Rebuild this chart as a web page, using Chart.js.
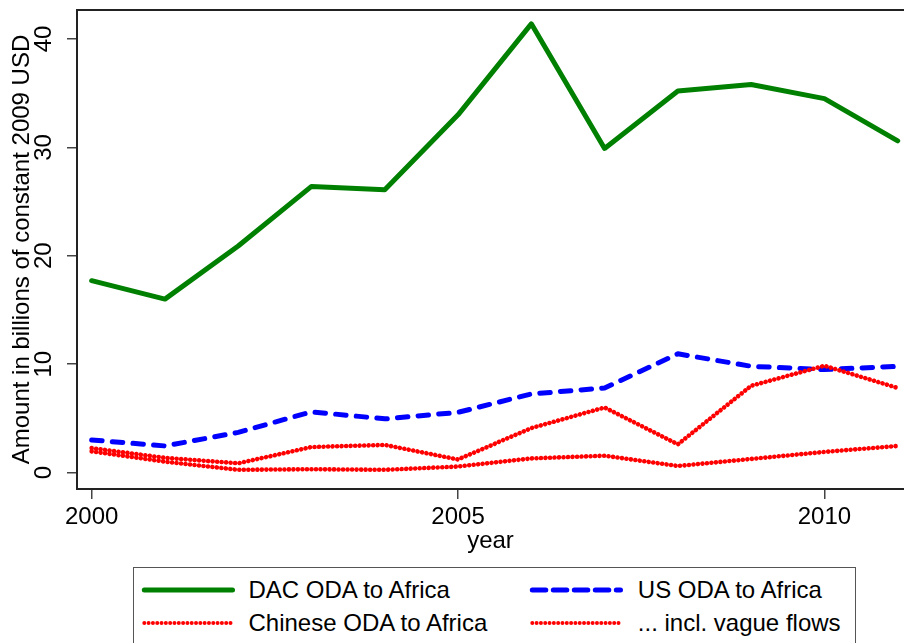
<!DOCTYPE html>
<html>
<head>
<meta charset="utf-8">
<script src="https://cdn.jsdelivr.net/npm/chart.js@4/dist/chart.umd.min.js"></script>
<style>
  html, body { margin: 0; padding: 0; background: #fff; overflow: hidden; }
  body { width: 904px; height: 643px; position: relative; font-family: "Liberation Sans", Arial, sans-serif; }
  #wrap { position: absolute; left: 0; top: 0; width: 904px; height: 560px; }
  #legend { position: absolute; left: 133px; top: 567px; width: 723px; height: 100px;
            border: 1.5px solid #555; box-sizing: border-box; background: #fff; }
  #legend .txt { position: absolute; font-size: 24px; line-height: 28px; color: #000; white-space: nowrap; }
  #legend svg { position: absolute; overflow: visible; }
</style>
</head>
<body>
<div id="wrap"><canvas id="c" width="904" height="560"></canvas></div>
<div id="legend"></div>
<script>
// ---- data ----
const years = [2000, 2001, 2002, 2003, 2004, 2005, 2006, 2007, 2008, 2009, 2010, 2011];
const dacOda = [17.7, 16.0, 20.9, 26.4, 26.1, 33.0, 41.4, 29.9, 35.2, 35.8, 34.5, 30.6];
const usOda = [3.0, 2.45, 3.7, 5.6, 4.95, 5.55, 7.25, 7.8, 10.95, 9.8, 9.5, 9.8];
const chineseOda = [1.95, 1.0, 0.25, 0.3, 0.25, 0.55, 1.3, 1.55, 0.6, 1.25, 1.9, 2.45];
const chineseInclVague = [2.25, 1.35, 0.85, 2.35, 2.55, 1.2, 4.1, 6.0, 2.6, 8.0, 9.85, 7.8];
const seriesLabels = ['DAC ODA to Africa', 'US ODA to Africa', 'Chinese ODA to Africa', '... incl. vague flows'];
const xTickValues = [2000, 2005, 2010];
const yTickValues = [0, 10, 20, 30, 40];
const xTitle = 'year';
const yTitle = 'Amount in billions of constant 2009 USD';

const FONT = '"Liberation Sans", Arial, sans-serif';
const pts = arr => years.map((yr, i) => ({ x: yr, y: arr[i] }));

const GREEN = 'rgb(0,128,0)', BLUE = 'rgb(0,0,255)', RED = 'rgb(255,0,0)';

const datasets = [
  { label: seriesLabels[0], data: pts(dacOda), borderColor: GREEN, borderWidth: 5,
    borderCapStyle: 'round', borderJoinStyle: 'round', order: 4 },
  { label: seriesLabels[1], data: pts(usOda), borderColor: BLUE, borderWidth: 5,
    borderDash: [10.5, 10.2], borderCapStyle: 'round', borderJoinStyle: 'round', order: 3 },
  { label: seriesLabels[2], data: pts(chineseOda), borderColor: RED, borderWidth: 4.6,
    borderDash: [0.01, 4.5], borderCapStyle: 'round', borderJoinStyle: 'round', order: 2 },
  { label: seriesLabels[3], data: pts(chineseInclVague), borderColor: RED, borderWidth: 4.6,
    borderDash: [0.01, 4.5], borderCapStyle: 'round', borderJoinStyle: 'round', order: 1 }
];
datasets.forEach(d => { d.pointRadius = 0; d.pointHoverRadius = 0; d.fill = false; d.tension = 0; });

const frameAndYLabels = {
  id: 'frameAndYLabels',
  afterDraw(chart) {
    const ctx = chart.ctx, ca = chart.chartArea, s = chart.scales.y;
    ctx.save();
    ctx.strokeStyle = '#222'; ctx.lineWidth = 2;
    ctx.beginPath(); ctx.moveTo(ca.left - 1, ca.top); ctx.lineTo(chart.width, ca.top); ctx.stroke();
    ctx.fillStyle = '#000'; ctx.font = '24px ' + FONT;
    ctx.textAlign = 'center'; ctx.textBaseline = 'middle';
    s.ticks.forEach(t => {
      const py = s.getPixelForValue(t.value);
      ctx.save(); ctx.translate(44, py); ctx.rotate(-Math.PI / 2);
      ctx.fillText(String(t.value), 0, 0); ctx.restore();
    });
    ctx.restore();
  }
};

new Chart(document.getElementById('c'), {
  type: 'line',
  data: { datasets },
  options: {
    responsive: false, animation: false, devicePixelRatio: 1,
    layout: { padding: { top: 10, right: 0, left: 0, bottom: 0 } },
    plugins: { legend: { display: false }, tooltip: { enabled: false } },
    scales: {
      x: {
        type: 'linear', min: 1999.8, max: 2011.086,
        afterBuildTicks: sc => { sc.ticks = xTickValues.map(v => ({ value: v })); },
        afterFit: sc => { sc.height = 71; },
        ticks: { color: '#000', font: { family: FONT, size: 24 }, padding: 4, maxRotation: 0, autoSkip: false,
                 callback: v => String(v) },
        grid: { drawOnChartArea: false, drawTicks: true, tickLength: 10, tickColor: '#444', lineWidth: 1.5 },
        border: { display: true, color: '#222', width: 2 },
        title: { display: true, text: xTitle, color: '#000', font: { family: FONT, size: 24 },
                 padding: { top: 0, bottom: 4.6 } }
      },
      y: {
        type: 'linear', min: -1.522, max: 42.676,
        afterBuildTicks: sc => { sc.ticks = yTickValues.map(v => ({ value: v })); },
        afterFit: sc => { sc.width = 77; },
        ticks: { display: false },
        grid: { drawOnChartArea: false, drawTicks: true, tickLength: 10, tickColor: '#444', lineWidth: 1.5 },
        border: { display: true, color: '#222', width: 2 },
        title: { display: true, text: yTitle, color: '#000', font: { family: FONT, size: 24 },
                 padding: { top: 8, bottom: 0 } }
      }
    }
  },
  plugins: [frameAndYLabels]
});

// ---- HTML legend built from the datasets ----
(function () {
  const lg = document.getElementById('legend');
  const cols = [{ svgLeft: 4.5, txtLeft: 114.5 }, { svgLeft: 392.5, txtLeft: 503.8 }];
  const rows = [{ svgTop: 16.2, txtTop: 8.3 }, { svgTop: 48.8, txtTop: 41.1 }];
  const layout = [[0, 0], [0, 1], [1, 0], [1, 1]];
  const legendDash = [null, '13.5 7.5', '0.01 4.3', '0.01 4.3'];
  const legendWidth = [5, 5, 4, 4];
  datasets.forEach((d, i) => {
    const [r, c] = layout[i];
    const ns = 'http://www.w3.org/2000/svg';
    const svg = document.createElementNS(ns, 'svg');
    svg.setAttribute('width', '100'); svg.setAttribute('height', '12');
    svg.style.left = cols[c].svgLeft + 'px'; svg.style.top = rows[r].svgTop + 'px';
    const ln = document.createElementNS(ns, 'line');
    ln.setAttribute('x1', '5.3'); ln.setAttribute('x2', '93.5');
    ln.setAttribute('y1', '6'); ln.setAttribute('y2', '6');
    ln.setAttribute('stroke', d.borderColor);
    ln.setAttribute('stroke-width', legendWidth[i]);
    ln.setAttribute('stroke-linecap', 'round');
    if (legendDash[i]) ln.setAttribute('stroke-dasharray', legendDash[i]);
    svg.appendChild(ln);
    lg.appendChild(svg);
    const t = document.createElement('div');
    t.className = 'txt';
    t.textContent = d.label;
    t.style.left = cols[c].txtLeft + 'px'; t.style.top = rows[r].txtTop + 'px';
    lg.appendChild(t);
  });
})();
</script>
</body>
</html>
